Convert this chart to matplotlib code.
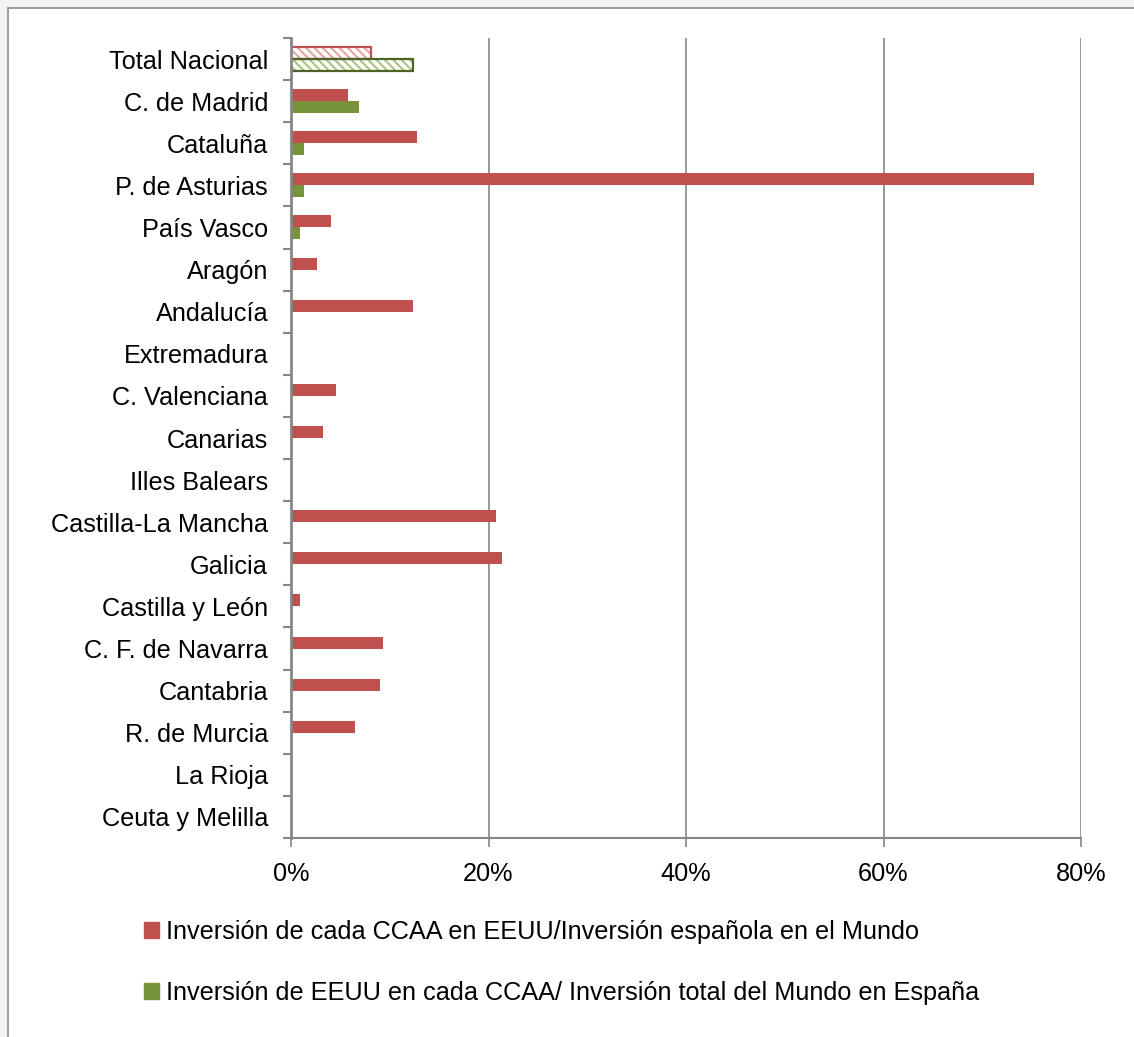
import matplotlib
matplotlib.use("Agg")
import matplotlib.pyplot as plt
from matplotlib.patches import Rectangle
from matplotlib.ticker import FuncFormatter, FixedLocator
import numpy as np

plt.rcParams['font.family'] = ['Liberation Sans', 'DejaVu Sans']
plt.rcParams['hatch.linewidth'] = 1.5

categories = ["Total Nacional", "C. de Madrid", "Cataluña", "P. de Asturias", "País Vasco",
              "Aragón", "Andalucía", "Extremadura", "C. Valenciana", "Canarias",
              "Illes Balears", "Castilla-La Mancha", "Galicia", "Castilla y León",
              "C. F. de Navarra", "Cantabria", "R. de Murcia", "La Rioja", "Ceuta y Melilla"]
inv_ccaa_eeuu = [8.1, 5.8, 12.8, 75.2, 4.0, 2.6, 12.4, 0.0, 4.6, 3.2,
                 0.0, 20.8, 21.4, 0.9, 9.3, 9.0, 6.45, 0.0, 0.0]
inv_eeuu_ccaa = [12.4, 6.9, 1.35, 1.3, 0.9, 0.0, 0.0, 0.0, 0.0, 0.0,
                 0.0, 0.0, 0.0, 0.0, 0.0, 0.0, 0.0, 0.0, 0.0]
xticks = [0, 20, 40, 60, 80]
legend_labels = ["Inversión de cada CCAA en EEUU/Inversión española en el Mundo",
                 "Inversión de EEUU en cada CCAA/ Inversión total del Mundo en España"]

RED = "#C0504D"
GREEN = "#77933C"
GRID = "#868686"
FS = 18.2

W, H = 1134, 1037
fig = plt.figure(figsize=(W / 100, H / 100), dpi=100)
fig.patch.set_facecolor("#F2F2F2")
fig.patches.append(Rectangle((8 / W, -0.1), 1.2, 1.1 - 8 / H, transform=fig.transFigure,
                             facecolor="white", edgecolor="#A0A0A0", linewidth=1.5, zorder=-5))

ax = fig.add_axes([291 / W, 1 - 838 / H, (1081 - 291) / W, 800 / H])
ax.set_facecolor("none")

n = len(categories)
y = np.arange(n)
h = 0.285
b1 = ax.barh(y - h / 2, inv_ccaa_eeuu, height=h, color=RED, label=legend_labels[0], zorder=3)
b2 = ax.barh(y + h / 2, inv_eeuu_ccaa, height=h, color=GREEN, label=legend_labels[1], zorder=3)

# Total Nacional: hatched bars
for patch, hatchc, edgec in [(b1.patches[0], "#E6A5A3", RED), (b2.patches[0], "#A9C47F", "#4F6228")]:
    patch.set_facecolor("white")
    patch.set_hatch("\\\\\\\\")
    patch.set_edgecolor(hatchc)
    patch.set_linewidth(0)
    ax.add_patch(Rectangle(patch.get_xy(), patch.get_width(), patch.get_height(),
                           facecolor="none", edgecolor=edgec, linewidth=1.6, zorder=4))

ax.set_ylim(n - 0.5, -0.5)
ax.set_xlim(0, 80)
ax.set_yticks(y)
ax.set_yticklabels(categories, fontsize=FS)
ax.yaxis.set_minor_locator(FixedLocator(np.arange(-0.5, n, 1.0)))
ax.tick_params(axis="y", which="major", length=0, pad=16.5)
ax.tick_params(axis="y", which="minor", length=6, width=1.5, color=GRID, direction="out")

ax.set_xticks(xticks)
ax.xaxis.set_major_formatter(FuncFormatter(lambda v, p: f"{v:.0f}%"))
ax.tick_params(axis="x", which="major", length=6.5, width=1.2, color=GRID, labelsize=FS, pad=11)
ax.grid(axis="x", color=GRID, linewidth=1.2, zorder=0)
ax.set_axisbelow(True)

for s in ["top", "right"]:
    ax.spines[s].set_visible(False)
ax.spines["left"].set_color(GRID)
ax.spines["left"].set_linewidth(2)
ax.spines["left"].set_zorder(5)
ax.spines["bottom"].set_color(GRID)
ax.spines["bottom"].set_linewidth(1.5)

handles = [Rectangle((0, 0), 1, 1, color=RED), Rectangle((0, 0), 1, 1, color=GREEN)]
fig.legend(handles, legend_labels, loc="upper left", bbox_to_anchor=(144 / W, 1 - 920 / H),
           frameon=False, fontsize=FS, handlelength=0.6, handleheight=0.6,
           handletextpad=0.28, labelspacing=1.45, borderaxespad=0, borderpad=0)

fig.savefig("out.png", dpi=100, facecolor=fig.get_facecolor())
